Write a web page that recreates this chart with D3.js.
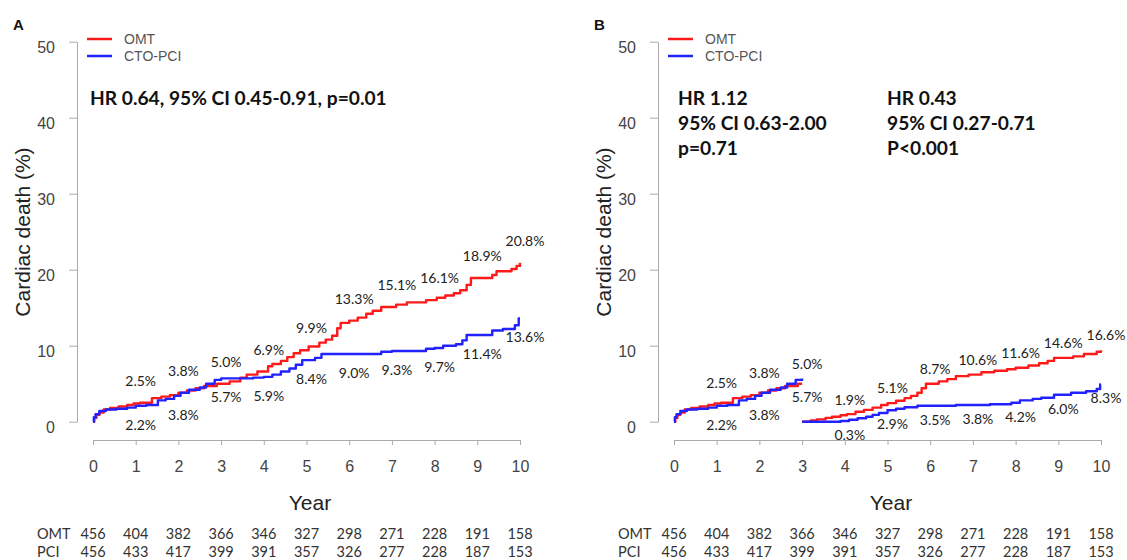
<!DOCTYPE html>
<html>
<head>
<meta charset="utf-8">
<script src="https://cdn.jsdelivr.net/npm/d3@7"></script>
<style>
  body { margin: 0; background: #fff; }
  svg { display: block; }
</style>
</head>
<body>
<div id="canvas"></div>
<script>
// data
const years = [0, 1, 2, 3, 4, 5, 6, 7, 8, 9, 10];
const yTicks = [0, 10, 20, 30, 40, 50];
const omtAtRisk = [456, 404, 382, 366, 346, 327, 298, 271, 228, 191, 158];
const pciAtRisk = [456, 433, 417, 399, 391, 357, 326, 277, 228, 187, 153];

// [year, cumulative %] step points
const omtA = [[0,0],[0.03,0.5],[0.08,0.9],[0.15,1.2],[0.25,1.6],[0.4,1.8],[0.6,2.0],[0.8,2.2],[0.95,2.4],[1.1,2.5],
  [1.38,3.1],[1.6,3.3],[1.8,3.5],[2.0,3.8],[2.2,4.1],[2.4,4.4],[2.6,4.7],[2.9,5.0],[3.2,5.3],[3.45,5.8],[3.6,6.2],
  [3.85,6.6],[4.1,7.3],[4.2,7.6],[4.4,8.0],[4.55,8.5],[4.7,9.0],[4.85,9.4],[5.05,9.9],[5.3,10.4],[5.45,10.8],
  [5.6,11.3],[5.72,12.3],[5.8,13.0],[6.0,13.3],[6.2,13.7],[6.4,14.2],[6.55,14.6],[6.75,15.1],[7.1,15.4],[7.35,15.7],
  [7.8,16.0],[8.05,16.3],[8.25,16.6],[8.45,16.9],[8.6,17.3],[8.75,18.0],[8.85,18.9],[9.35,19.3],[9.45,19.8],
  [9.8,20.1],[9.92,20.5],[10,20.9]];
const pciA = [[0,0],[0.02,0.6],[0.06,1.0],[0.15,1.4],[0.3,1.6],[0.55,1.7],[0.8,1.85],[1.0,2.1],[1.25,2.2],
  [1.52,2.8],[1.7,3.0],[1.9,3.4],[2.05,3.8],[2.25,4.2],[2.5,4.5],[2.65,5.0],[2.85,5.5],[3.0,5.7],[3.75,5.8],
  [4.0,5.9],[4.2,6.2],[4.4,6.6],[4.6,7.0],[4.75,7.5],[4.9,8.1],[5.2,8.4],[5.35,8.9],[6.75,9.2],[7.0,9.3],
  [7.8,9.6],[8.0,9.7],[8.2,10.0],[8.5,10.2],[8.65,10.7],[8.75,11.4],[9.35,12.0],[9.6,12.2],[9.88,12.7],[9.97,13.6],[10,13.6]];
// landmark curves after year 3
const omtB = [[3,0],[3.2,0.15],[3.35,0.3],[3.55,0.5],[3.7,0.65],[3.9,0.85],[4.05,1.0],[4.25,1.3],[4.45,1.55],
  [4.65,1.85],[4.85,2.2],[5.0,2.45],[5.2,2.75],[5.4,3.1],[5.55,3.4],[5.7,3.8],[5.8,4.4],[5.9,5.0],[6.2,5.3],
  [6.4,5.6],[6.6,6.0],[6.9,6.2],[7.2,6.5],[7.5,6.7],[7.8,6.9],[8.0,7.1],[8.3,7.4],[8.55,7.7],[8.75,8.0],
  [8.9,8.4],[9.35,8.6],[9.6,8.9],[9.9,9.2],[10,9.4]];
const pciB = [[3,0],[3.9,0.1],[4.1,0.25],[4.3,0.45],[4.5,0.65],[4.65,0.9],[4.8,1.15],[5.0,1.5],[5.2,1.7],
  [5.4,1.9],[5.7,2.1],[6.6,2.2],[7.4,2.3],[7.9,2.5],[8.1,2.8],[8.4,3.0],[8.6,3.15],[8.9,3.55],[9.3,3.8],
  [9.65,4.0],[9.9,4.3],[9.98,4.9],[10,4.9]];

// percentage labels at years 1..10
const omtLabelsA = ["2.5%","3.8%","5.0%","6.9%","9.9%","13.3%","15.1%","16.1%","18.9%","20.8%"];
const pciLabelsA = ["2.2%","3.8%","5.7%","5.9%","8.4%","9.0%","9.3%","9.7%","11.4%","13.6%"];
const omtLabelsB = ["2.5%","3.8%","5.0%","1.9%","5.1%","8.7%","10.6%","11.6%","14.6%","16.6%"];
const pciLabelsB = ["2.2%","3.8%","5.7%","0.3%","2.9%","3.5%","3.8%","4.2%","6.0%","8.3%"];

const hrA = ["HR 0.64, 95% CI 0.45-0.91, p=0.01"];
const hrB1 = ["HR 1.12", "95% CI 0.63-2.00", "p=0.71"];
const hrB2 = ["HR 0.43", "95% CI 0.27-0.71", "P<0.001"];

const RED = "#ff1a1a", BLUE = "#2222ff";
const axisFont = "'Liberation Sans', Arial, sans-serif";
const textFont = "Lato, 'Open Sans', sans-serif";

const width = 1127, height = 560;
const svg = d3.select("#canvas").append("svg")
  .attr("width", width).attr("height", height)
  .style("background", "#fff");

const y = d3.scaleLinear().domain([0, 50]).range([421.7, 41.7]);

function stepAt(data, t) {
  let v = 0;
  data.forEach(d => { if (d[0] <= t + 1e-9) v = d[1]; });
  return v;
}

const line = (x) => d3.line().curve(d3.curveStepAfter).x(d => x(d[0])).y(d => y(d[1]));

function drawPanel(dx, letter) {
  const g = svg.append("g").attr("transform", `translate(${dx},0)`);
  const x = d3.scaleLinear().domain([0, 10]).range([93, 520]);
  const axisX = 77;

  g.append("text").attr("x", 13).attr("y", 30)
    .style("font-family", axisFont).style("font-weight", "bold").style("font-size", "15px")
    .attr("fill", "#111").text(letter);

  // y axis
  const ya = g.append("g").attr("transform", `translate(${axisX},0)`)
    .call(d3.axisLeft(y).tickValues(yTicks).tickSize(8).tickSizeOuter(0).tickPadding(14));
  ya.select(".domain").attr("stroke", "#aaa");
  ya.selectAll(".tick line").attr("stroke", "#aaa");
  ya.selectAll(".tick text").attr("fill", "#444").attr("dy", "0.66em")
    .style("font-family", axisFont).style("font-size", "16px");

  // x axis
  const xa = g.append("g").attr("transform", "translate(0,440)")
    .call(d3.axisBottom(x).tickValues(years).tickSize(5).tickSizeOuter(0).tickPadding(16));
  xa.select(".domain").attr("stroke", "#aaa");
  xa.selectAll(".tick line").attr("stroke", "#aaa");
  xa.selectAll(".tick text").attr("fill", "#444")
    .style("font-family", axisFont).style("font-size", "16px");

  g.append("text").attr("x", 310).attr("y", 510).attr("text-anchor", "middle")
    .style("font-family", axisFont).style("font-size", "21px").attr("fill", "#222").text("Year");
  g.append("text").attr("transform", "translate(30,232) rotate(-90)").attr("text-anchor", "middle")
    .style("font-family", axisFont).style("font-size", "21px").attr("fill", "#222").text("Cardiac death (%)");

  // legend
  const leg = [["OMT", RED, 39], ["CTO-PCI", BLUE, 56]];
  leg.forEach(([name, col, ly]) => {
    g.append("line").attr("x1", axisX + 10).attr("x2", axisX + 35).attr("y1", ly).attr("y2", ly)
      .attr("stroke", col).attr("stroke-width", 2.5);
    g.append("text").attr("x", axisX + 47).attr("y", ly + 5)
      .style("font-family", axisFont).style("font-size", "14px").attr("fill", "#555").text(name);
  });

  // number at risk
  const risk = [["OMT", omtAtRisk, 539], ["PCI", pciAtRisk, 557]];
  risk.forEach(([name, vals, ry]) => {
    g.append("text").attr("x", 37).attr("y", ry)
      .style("font-family", textFont).style("font-size", "14.5px").attr("fill", "#333").text(name);
    g.selectAll(null).data(vals).enter().append("text")
      .attr("x", (d, i) => x(years[i])).attr("y", ry).attr("text-anchor", "middle")
      .style("font-family", textFont).style("font-size", "14.5px").attr("fill", "#333").text(d => d);
  });

  return { g, x };
}

function drawCurve(p, data, col) {
  p.g.append("path").datum(data).attr("d", line(p.x))
    .attr("fill", "none").attr("stroke", col).attr("stroke-width", 2.4).attr("stroke-linejoin", "round");
}

function drawLabels(p, labels, yrs, curve, offset) {
  p.g.selectAll(null).data(yrs).enter().append("text")
    .attr("x", d => p.x(d) + 5)
    .attr("y", d => y(stepAt(curve, d)) + offset + 5)
    .attr("text-anchor", "middle")
    .style("font-family", textFont).style("font-size", "14px").attr("fill", "#222")
    .text(d => labels[d - 1]);
}

function drawHR(p, lines, hx) {
  lines.forEach((t, i) => {
    p.g.append("text").attr("x", hx).attr("y", 105 + i * 25)
      .style("font-family", textFont).style("font-weight", "bold").style("font-size", "19.2px")
      .attr("fill", "#111").text(t);
  });
}

// Panel A
const pA = drawPanel(0, "A");
drawCurve(pA, omtA, RED);
drawCurve(pA, pciA, BLUE);
const allYears = years.slice(1);
drawLabels(pA, omtLabelsA, allYears, omtA, -22);
drawLabels(pA, pciLabelsA, allYears, pciA, 19);
drawHR(pA, hrA, 90);

// Panel B (landmark at 3 years)
const pB = drawPanel(581, "B");
const omtB1 = omtA.filter(d => d[0] <= 3).concat([[3, stepAt(omtA, 3)]]);
const pciB1 = pciA.filter(d => d[0] <= 3).concat([[3, stepAt(pciA, 3)]]);
drawCurve(pB, omtB1, RED);
drawCurve(pB, pciB1, BLUE);
drawCurve(pB, omtB, RED);
drawCurve(pB, pciB, BLUE);
const early = [1, 2, 3], late = [4, 5, 6, 7, 8, 9, 10];
drawLabels(pB, omtLabelsB, early, omtB1, -20);
drawLabels(pB, pciLabelsB, early, pciB1, 19);
drawLabels(pB, omtLabelsB, late, omtB, -15);
drawLabels(pB, pciLabelsB, late, pciB, 14);
drawHR(pB, hrB1, 97);
drawHR(pB, hrB2, 306);
</script>
</body>
</html>
